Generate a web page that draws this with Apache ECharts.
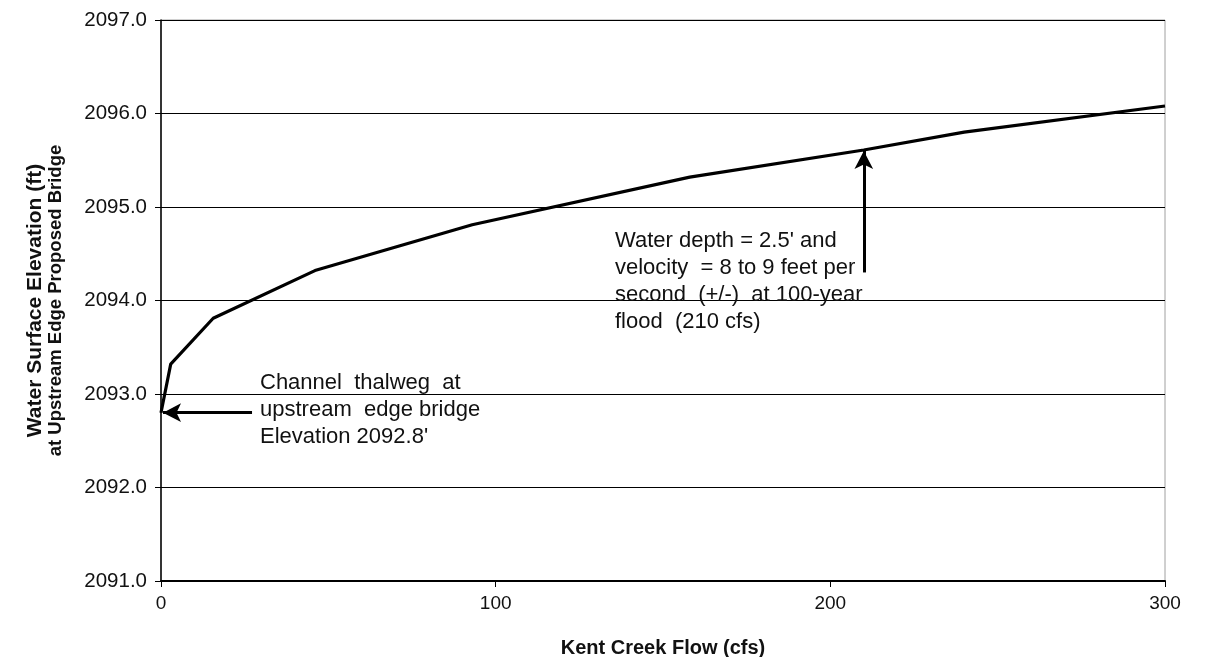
<!DOCTYPE html>
<html>
<head>
<meta charset="utf-8">
<script src="https://cdn.jsdelivr.net/npm/echarts@6/dist/echarts.min.js"></script>
<style>
  html, body { margin: 0; padding: 0; background: #fff; }
  #chart { width: 1215px; height: 657px; }
</style>
</head>
<body>
<div id="chart"></div>
<script>
// Stage-discharge relation at the upstream edge of the proposed bridge
const flowCfs = [0, 2.9, 15.6, 46, 93, 158, 210, 240, 300];
const elevationFt = [2092.8, 2093.32, 2093.81, 2094.32, 2094.81, 2095.32, 2095.61, 2095.80, 2096.08];

const xTicks = [0, 100, 200, 300];
const yTicks = [2091, 2092, 2093, 2094, 2095, 2096, 2097];

// Annotation arrows: [from, to] in data units
const thalwegArrow = [[27.2, 2092.8], [0.6, 2092.8]];
const floodArrow = [[210, 2094.3], [210, 2095.6]];

const thalwegNote = ["Channel  thalweg  at", "upstream  edge bridge", "Elevation 2092.8'"];
const floodNote = ["Water depth = 2.5' and", "velocity  = 8 to 9 feet per", "second  (+/-)  at 100-year", "flood  (210 cfs)"];

const FONT = '"Liberation Sans", Arial, sans-serif';

const chart = echarts.init(document.getElementById('chart'), null, { renderer: 'canvas' });

chart.setOption({
  backgroundColor: '#fff',
  animation: false,
  grid: {
    left: 161, right: 50, top: 20, bottom: 76,
    outerBoundsMode: 'none',
    containLabel: false,
    show: true, borderColor: '#a0a0a0', borderWidth: 1
  },
  xAxis: {
    type: 'value',
    min: xTicks[0], max: xTicks[xTicks.length - 1], interval: 100,
    name: 'Kent Creek Flow (cfs)',
    nameLocation: 'middle', nameGap: 57,
    nameTextStyle: { fontFamily: FONT, fontSize: 20, fontWeight: 'bold', color: '#111' },
    axisLine: { show: true, onZero: false, lineStyle: { color: '#000', width: 2 } },
    axisTick: { show: true, length: 6, lineStyle: { color: '#000', width: 1 } },
    axisLabel: { margin: 13, fontFamily: FONT, fontSize: 19, color: '#111' },
    splitLine: { show: false }
  },
  yAxis: {
    type: 'value',
    min: yTicks[0], max: yTicks[yTicks.length - 1], interval: 1,
    name: '{a|Water Surface Elevation (ft)}\n{b|at Upstream Edge Proposed Bridge}',
    nameLocation: 'middle', nameGap: 95, nameRotate: 90,
    nameTextStyle: {
      color: '#111',
      rich: {
        a: { fontFamily: FONT, fontSize: 21, fontWeight: 'bold', color: '#111', lineHeight: 21 },
        b: { fontFamily: FONT, fontSize: 18.5, fontWeight: 'bold', color: '#111', lineHeight: 20 }
      }
    },
    axisLine: { show: true, onZero: false, lineStyle: { color: '#000', width: 1.5 } },
    axisTick: { show: true, length: 6, lineStyle: { color: '#000', width: 1 } },
    axisLabel: {
      margin: 14, fontFamily: FONT, fontSize: 20.5, color: '#111',
      formatter: v => v.toFixed(1)
    },
    splitLine: { show: true, lineStyle: { color: '#000', width: 1 } }
  },
  series: [{
    type: 'line',
    data: flowCfs.map((x, i) => [x, elevationFt[i]]),
    showSymbol: false,
    symbol: 'none',
    lineStyle: { color: '#000', width: 3.2 },
    z: 5,
    markLine: {
      silent: true,
      symbol: ['none', 'arrow'],
      symbolSize: [14, 18],
      label: { show: false },
      lineStyle: { color: '#000', width: 3, type: 'solid' },
      data: [
        [{ coord: thalwegArrow[0] }, { coord: thalwegArrow[1] }],
        [{ coord: floodArrow[0] }, { coord: floodArrow[1] }]
      ]
    }
  }],
  graphic: [
    {
      type: 'text', left: 260, top: 369, z: 10,
      style: { text: thalwegNote.join('\n'), font: '22px ' + FONT, fill: '#111', lineHeight: 27 }
    },
    {
      type: 'text', left: 615, top: 228, z: 10,
      style: { text: floodNote.join('\n'), font: '22px ' + FONT, fill: '#111', lineHeight: 26.7 }
    }
  ]
});
</script>
</body>
</html>
